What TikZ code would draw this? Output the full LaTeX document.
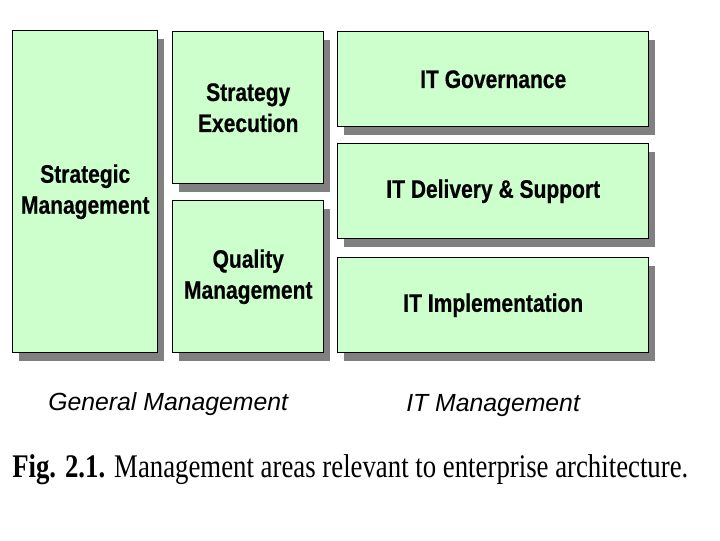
\documentclass[tikz,border=0pt]{standalone}
\usepackage{fontspec}
\usepackage{graphicx}
\usetikzlibrary{shadows}
\setmainfont{Liberation Serif}
\newfontfamily\boxfont{Liberation Sans Bold}[FakeStretch=0.83, FakeBold=0.5]
\newfontfamily\labfont{Liberation Sans Italic}
\definecolor{boxgreen}{HTML}{CCFFCC}
\definecolor{shadowgray}{HTML}{808080}
\tikzset{
  areabox/.style={draw=black, line width=1.1pt, fill=boxgreen, rectangle, inner sep=0pt,
    anchor=north west, align=center,
    font=\boxfont\fontsize{19pt}{23.25pt}\selectfont,
    drop shadow={shadow xshift=5pt, shadow yshift=-6.5pt, fill=shadowgray, opacity=1}},
  grouplabel/.style={anchor=base west, inner sep=0pt, font=\labfont\fontsize{18.6pt}{22pt}\selectfont},
}
\begin{document}
\begin{tikzpicture}[x=0.75pt, y=-0.75pt]
\useasboundingbox (0,0) rectangle (720,540);
\fill[white] (0,0) rectangle (720,540);
\node[areabox, minimum width=108.75pt, minimum height=241.5pt] (sm) at (12,30) {Strategic\\Management};
\node[areabox, minimum width=113.25pt, minimum height=114pt] (se) at (172,31) {Strategy\\Execution};
\node[areabox, minimum width=113.25pt, minimum height=114pt] (qm) at (172,200) {Quality\\Management};
\node[areabox, minimum width=233.25pt, minimum height=71.25pt] (itg) at (337,31) {IT Governance};
\node[areabox, minimum width=233.25pt, minimum height=71.25pt] (itd) at (337,143) {IT Delivery \& Support};
\node[areabox, minimum width=233.25pt, minimum height=71.25pt] (iti) at (337,257) {IT Implementation};
\node[grouplabel] (gm) at (48,410) {General Management};
\node[grouplabel] (itm) at (406,411) {IT Management};
\node[anchor=base west, inner sep=0pt, font=\fontsize{24.75pt}{28pt}\selectfont] (cap) at (12,477)
  {\resizebox{507pt}{\height}{\textbf{Fig. 2.1.} Management areas relevant to enterprise architecture.}};
\end{tikzpicture}
\end{document}
